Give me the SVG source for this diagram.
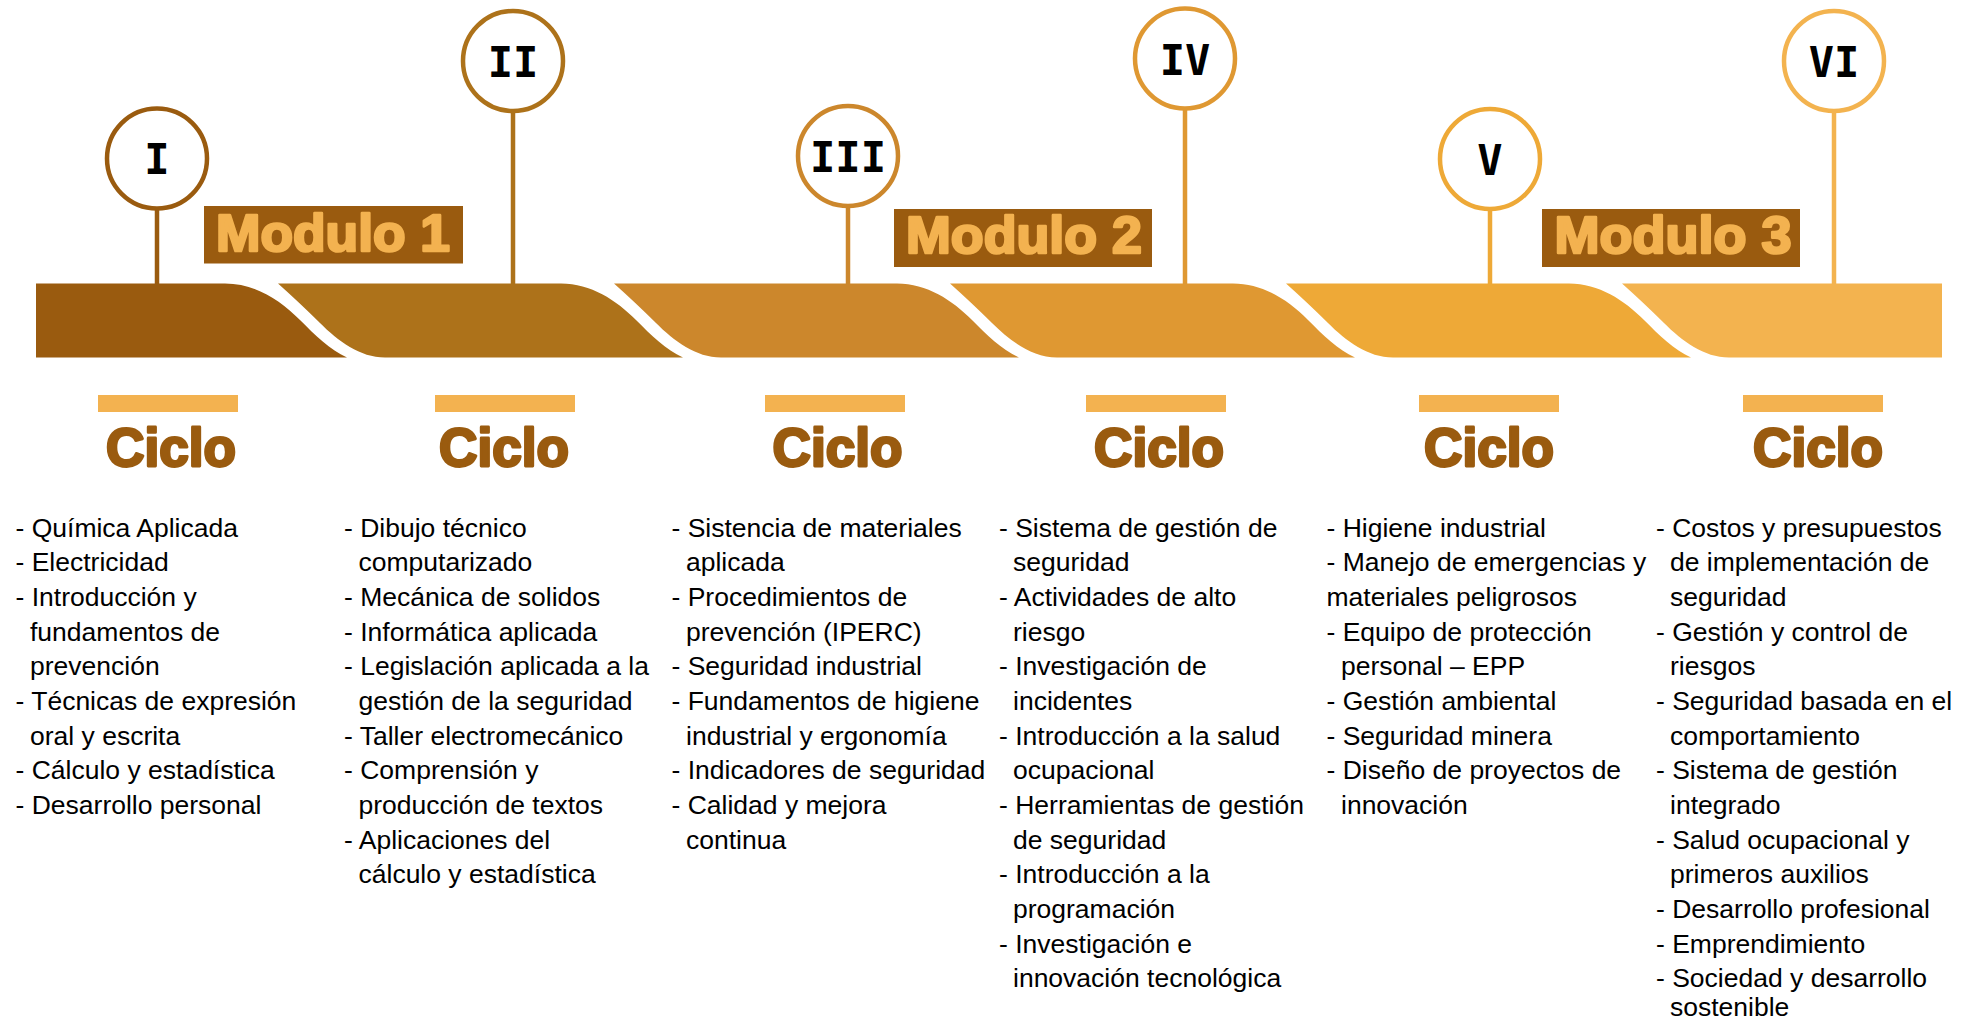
<svg xmlns="http://www.w3.org/2000/svg" width="1968" height="1023" viewBox="0 0 1968 1023">
<style>
.num{font-family:"DejaVu Sans Mono",monospace;font-weight:bold;font-size:42px;fill:#000;text-anchor:middle}
.ring{fill:#fff;stroke-width:4.5}
.stem{stroke-width:4.5;fill:none}
.mbox{fill:#9A5B0F}
.mtxt{font-family:"Liberation Sans",Arial,sans-serif;font-weight:bold;font-size:52px;fill:#F3B250;stroke:#F3B250;stroke-width:2.6;stroke-linejoin:round;text-anchor:middle}
.bar{fill:#F3B250}
.ciclo{font-family:"Liberation Sans",Arial,sans-serif;font-weight:bold;font-size:53px;fill:#9A5B0F;stroke:#9A5B0F;stroke-width:2.8;stroke-linejoin:round;text-anchor:middle}
.li{font-family:"Liberation Sans",Arial,sans-serif;font-size:26.5px;fill:#000}
</style>
<rect width="1968" height="1023" fill="#fff"/>
<g id="band">
<path fill="#9A5B0F" d="M36,283.5 L225,283.5 C255,283.5 280,300 300,320 C315,335 330,350 347,357.5 L36,357.5 Z"/>
<path fill="#AD721A" d="M278,283.5 L561,283.5 C591,283.5 616,300 636,320 C651,335 666,350 683,357.5 L385,357.5 C360,357.5 338,341 320,323 C306,309 292,296 278,283.5 Z"/>
<path fill="#CC872C" d="M614,283.5 L897,283.5 C927,283.5 952,300 972,320 C987,335 1002,350 1019,357.5 L721,357.5 C696,357.5 674,341 656,323 C642,309 628,296 614,283.5 Z"/>
<path fill="#DF9832" d="M950,283.5 L1233,283.5 C1263,283.5 1288,300 1308,320 C1323,335 1338,350 1355,357.5 L1057,357.5 C1032,357.5 1010,341 992,323 C978,309 964,296 950,283.5 Z"/>
<path fill="#EEA937" d="M1286,283.5 L1569,283.5 C1599,283.5 1624,300 1644,320 C1659,335 1674,350 1691,357.5 L1393,357.5 C1368,357.5 1346,341 1328,323 C1314,309 1300,296 1286,283.5 Z"/>
<path fill="#F3B34F" d="M1622,283.5 L1942,283.5 L1942,357.5 L1729,357.5 C1704,357.5 1682,341 1664,323 C1650,309 1636,296 1622,283.5 Z"/>
</g>
<g id="connectors">
<line class="stem" stroke="#9A5B0F" x1="157" y1="210" x2="157" y2="284"/>
<line class="stem" stroke="#AD721A" x1="513" y1="112" x2="513" y2="284"/>
<line class="stem" stroke="#CC872C" x1="848" y1="207" x2="848" y2="284"/>
<line class="stem" stroke="#DF9832" x1="1185" y1="110" x2="1185" y2="284"/>
<line class="stem" stroke="#EEA937" x1="1490" y1="210" x2="1490" y2="284"/>
<line class="stem" stroke="#F3B34F" x1="1834" y1="112" x2="1834" y2="284"/>
</g>
<g id="node-I"><circle class="ring" stroke="#9A5B0F" cx="157" cy="158.5" r="50"/><text class="num" x="157" y="173.5">I</text></g>
<g id="node-II"><circle class="ring" stroke="#AD721A" cx="513" cy="61" r="50"/><text class="num" x="513" y="77">II</text></g>
<g id="node-III"><circle class="ring" stroke="#CC872C" cx="848" cy="156" r="50"/><text class="num" x="848" y="172">III</text></g>
<g id="node-IV"><circle class="ring" stroke="#DF9832" cx="1185" cy="58.5" r="50"/><text class="num" x="1185" y="74.5">IV</text></g>
<g id="node-V"><circle class="ring" stroke="#EEA937" cx="1490" cy="159" r="50"/><text class="num" x="1490" y="175">V</text></g>
<g id="node-VI"><circle class="ring" stroke="#F3B34F" cx="1834" cy="61" r="50"/><text class="num" x="1834" y="77">VI</text></g>
<g id="modulo-1"><rect class="mbox" x="204" y="206" width="259" height="57.5"/><text class="mtxt" x="333" y="251" textLength="234" lengthAdjust="spacingAndGlyphs">Modulo 1</text></g>
<g id="modulo-2"><rect class="mbox" x="894" y="209" width="258" height="58"/><text class="mtxt" x="1024" y="253" textLength="236" lengthAdjust="spacingAndGlyphs">Modulo 2</text></g>
<g id="modulo-3"><rect class="mbox" x="1542" y="209" width="258" height="58"/><text class="mtxt" x="1673" y="253" textLength="237" lengthAdjust="spacingAndGlyphs">Modulo 3</text></g>
<g id="ciclo-1">
<rect class="bar" x="98" y="395" width="140" height="17"/>
<text class="ciclo" x="171" y="465.5" textLength="130" lengthAdjust="spacingAndGlyphs">Ciclo</text>
<text class="li" x="15.5" y="536.7">- Química Aplicada</text>
<text class="li" x="15.5" y="571.4">- Electricidad</text>
<text class="li" x="15.5" y="606">- Introducción y</text>
<text class="li" x="30" y="640.7">fundamentos de</text>
<text class="li" x="30" y="675.3">prevención</text>
<text class="li" x="15.5" y="710">- Técnicas de expresión</text>
<text class="li" x="30" y="744.7">oral y escrita</text>
<text class="li" x="15.5" y="779.3">- Cálculo y estadística</text>
<text class="li" x="15.5" y="814">- Desarrollo personal</text>
</g>
<g id="ciclo-2">
<rect class="bar" x="435" y="395" width="140" height="17"/>
<text class="ciclo" x="504" y="465.5" textLength="130" lengthAdjust="spacingAndGlyphs">Ciclo</text>
<text class="li" x="344" y="536.7">- Dibujo técnico</text>
<text class="li" x="358.5" y="571.4">computarizado</text>
<text class="li" x="344" y="606">- Mecánica de solidos</text>
<text class="li" x="344" y="640.7">- Informática aplicada</text>
<text class="li" x="344" y="675.3">- Legislación aplicada a la</text>
<text class="li" x="358.5" y="710">gestión de la seguridad</text>
<text class="li" x="344" y="744.7">- Taller electromecánico</text>
<text class="li" x="344" y="779.3">- Comprensión y</text>
<text class="li" x="358.5" y="814">producción de textos</text>
<text class="li" x="344" y="848.6">- Aplicaciones del</text>
<text class="li" x="358.5" y="883.3">cálculo y estadística</text>
</g>
<g id="ciclo-3">
<rect class="bar" x="765" y="395" width="140" height="17"/>
<text class="ciclo" x="837.5" y="465.5" textLength="130" lengthAdjust="spacingAndGlyphs">Ciclo</text>
<text class="li" x="671.5" y="536.7">- Sistencia de materiales</text>
<text class="li" x="686" y="571.4">aplicada</text>
<text class="li" x="671.5" y="606">- Procedimientos de</text>
<text class="li" x="686" y="640.7">prevención (IPERC)</text>
<text class="li" x="671.5" y="675.3">- Seguridad industrial</text>
<text class="li" x="671.5" y="710">- Fundamentos de higiene</text>
<text class="li" x="686" y="744.7">industrial y ergonomía</text>
<text class="li" x="671.5" y="779.3">- Indicadores de seguridad</text>
<text class="li" x="671.5" y="814">- Calidad y mejora</text>
<text class="li" x="686" y="848.6">continua</text>
</g>
<g id="ciclo-4">
<rect class="bar" x="1086" y="395" width="140" height="17"/>
<text class="ciclo" x="1159" y="465.5" textLength="130" lengthAdjust="spacingAndGlyphs">Ciclo</text>
<text class="li" x="999" y="536.7">- Sistema de gestión de</text>
<text class="li" x="1013" y="571.4">seguridad</text>
<text class="li" x="999" y="606">- Actividades de alto</text>
<text class="li" x="1013" y="640.7">riesgo</text>
<text class="li" x="999" y="675.3">- Investigación de</text>
<text class="li" x="1013" y="710">incidentes</text>
<text class="li" x="999" y="744.7">- Introducción a la salud</text>
<text class="li" x="1013" y="779.3">ocupacional</text>
<text class="li" x="999" y="814">- Herramientas de gestión</text>
<text class="li" x="1013" y="848.6">de seguridad</text>
<text class="li" x="999" y="883.3">- Introducción a la</text>
<text class="li" x="1013" y="918">programación</text>
<text class="li" x="999" y="952.6">- Investigación e</text>
<text class="li" x="1013" y="987.3">innovación tecnológica</text>
</g>
<g id="ciclo-5">
<rect class="bar" x="1419" y="395" width="140" height="17"/>
<text class="ciclo" x="1489" y="465.5" textLength="130" lengthAdjust="spacingAndGlyphs">Ciclo</text>
<text class="li" x="1326.5" y="536.7">- Higiene industrial</text>
<text class="li" x="1326.5" y="571.4">- Manejo de emergencias y</text>
<text class="li" x="1326.5" y="606">materiales peligrosos</text>
<text class="li" x="1326.5" y="640.7">- Equipo de protección</text>
<text class="li" x="1341" y="675.3">personal – EPP</text>
<text class="li" x="1326.5" y="710">- Gestión ambiental</text>
<text class="li" x="1326.5" y="744.7">- Seguridad minera</text>
<text class="li" x="1326.5" y="779.3">- Diseño de proyectos de</text>
<text class="li" x="1341" y="814">innovación</text>
</g>
<g id="ciclo-6">
<rect class="bar" x="1743" y="395" width="140" height="17"/>
<text class="ciclo" x="1818" y="465.5" textLength="130" lengthAdjust="spacingAndGlyphs">Ciclo</text>
<text class="li" x="1656" y="536.7">- Costos y presupuestos</text>
<text class="li" x="1670" y="571.4">de implementación de</text>
<text class="li" x="1670" y="606">seguridad</text>
<text class="li" x="1656" y="640.7">- Gestión y control de</text>
<text class="li" x="1670" y="675.3">riesgos</text>
<text class="li" x="1656" y="710">- Seguridad basada en el</text>
<text class="li" x="1670" y="744.7">comportamiento</text>
<text class="li" x="1656" y="779.3">- Sistema de gestión</text>
<text class="li" x="1670" y="814">integrado</text>
<text class="li" x="1656" y="848.6">- Salud ocupacional y</text>
<text class="li" x="1670" y="883.3">primeros auxilios</text>
<text class="li" x="1656" y="918">- Desarrollo profesional</text>
<text class="li" x="1656" y="952.6">- Emprendimiento</text>
<text class="li" x="1656" y="987.3">- Sociedad y desarrollo</text>
<text class="li" x="1670" y="1016">sostenible</text>
</g>
</svg>
